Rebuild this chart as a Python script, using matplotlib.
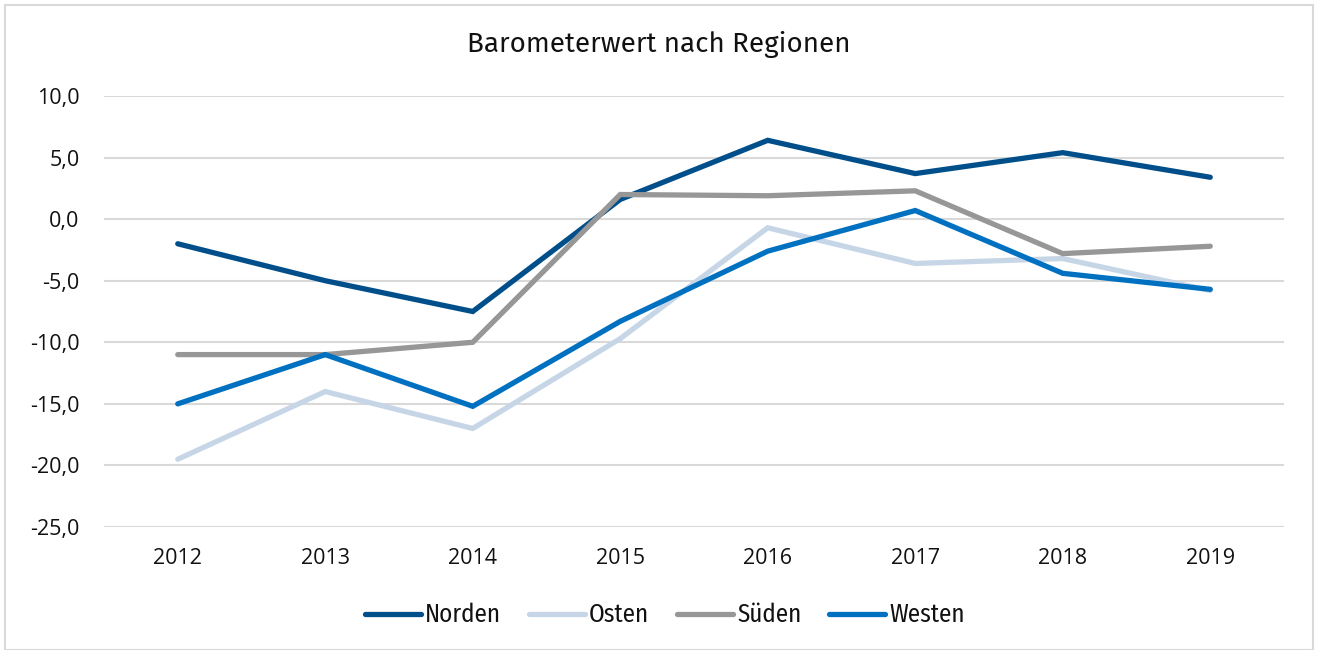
import matplotlib.pyplot as plt
from matplotlib.patches import Rectangle
from matplotlib.ticker import FuncFormatter

plt.rcParams['font.family'] = ['Open Sans', 'DejaVu Sans']

years = ['2012', '2013', '2014', '2015', '2016', '2017', '2018', '2019']
norden = [-2.0, -5.0, -7.5, 1.6, 6.4, 3.7, 5.4, 3.4]
osten = [-19.5, -14.0, -17.0, -9.7, -0.7, -3.6, -3.2, -5.8]
sueden = [-11.0, -11.0, -10.0, 2.0, 1.9, 2.3, -2.8, -2.2]
westen = [-15.0, -11.0, -15.2, -8.3, -2.6, 0.7, -4.4, -5.7]

series = [('Norden', norden, '#004f8a'),
          ('Osten', osten, '#c6d6e7'),
          ('Süden', sueden, '#979797'),
          ('Westen', westen, '#0070c0')]

fig = plt.figure(figsize=(13.17, 6.5), dpi=100)
fig.patches.append(Rectangle((5/1317, 0), 1308/1317, 645/650, transform=fig.transFigure,
                             fill=False, edgecolor='#d9d9d9', linewidth=1.5))
ax = fig.add_axes([104/1317, 1-527/650, 1180/1317, 431/650])

x = list(range(len(years)))
for name, vals, col in series:
    ax.plot(x, vals, color=col, linewidth=3.8, label=name, solid_capstyle='round',
            solid_joinstyle='miter')

ax.set_xlim(-0.5, len(years)-0.5)
ax.set_ylim(-25, 10)
ax.set_yticks(range(-25, 11, 5))
ax.yaxis.set_major_formatter(FuncFormatter(lambda v, p: f'{v:.1f}'.replace('.', ',')))
ax.set_xticks(x)
ax.set_xticklabels(years)
ax.tick_params(length=0, labelsize=15.5, colors='#111111')
ax.tick_params(axis='y', pad=17.5)
ax.tick_params(axis='x', pad=15)
ax.grid(axis='y', color='#d9d9d9', linewidth=1.5)
ax.set_axisbelow(True)
for s in ax.spines.values():
    s.set_visible(False)

fig.text(0.5, 1-45/650, 'Barometerwert nach Regionen', ha='center', va='center',
         fontsize=20, family=['Fira Sans', 'DejaVu Sans'], color='#111111')

leg = fig.legend(loc='center', bbox_to_anchor=(665/1317, 1-615/650), ncol=4, frameon=False,
                 prop={'family': ['Fira Sans Condensed', 'DejaVu Sans'], 'size': 18},
                 handlelength=2.24, handletextpad=0.16, columnspacing=1.12)
for t in leg.get_texts():
    t.set_color('#111111')

plt.savefig('out.png', dpi=100)
